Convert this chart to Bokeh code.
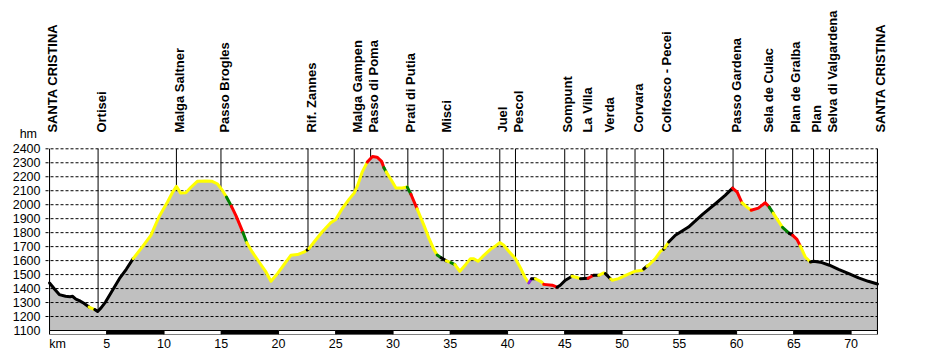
import numpy as np
from bokeh.plotting import figure
from bokeh.models import Range1d, FixedTicker
from bokeh.core.properties import value
from bokeh.embed import file_html
from bokeh.resources import INLINE

# ---------------- data ----------------
km = [0.0, 0.2, 0.45, 0.85, 1.4, 1.8, 2.0, 2.3, 2.6, 3.0,
      3.45, 3.95, 4.2, 4.5, 4.9, 5.5, 6.1, 6.7, 7.3, 8.1,
      8.85, 9.55, 10.3, 10.75, 11.08, 11.45, 11.9, 12.35, 12.9, 13.65,
      14.2, 14.65, 15.1, 15.45, 15.88, 16.3, 16.9, 17.22, 17.7, 18.3,
      18.9, 19.34, 19.9, 20.6, 21.07, 21.65, 22.25, 22.5, 22.65, 23.1,
      23.8, 24.55, 25.0, 25.55, 26.15, 26.6, 26.9, 27.3, 27.75, 28.2,
      28.6, 29.0, 29.2, 29.4, 29.95, 30.25, 30.8, 31.24, 31.56, 32.1,
      32.7, 33.15, 33.6, 33.85, 34.2, 34.65, 35.05, 35.4, 35.83, 36.33,
      36.76, 37.05, 37.43, 37.93, 38.5, 38.95, 39.32, 39.67, 40.1, 40.69,
      41.13, 41.5, 41.85, 42.09, 42.43, 42.96, 43.16, 43.9, 44.32, 44.6,
      45.05, 45.63, 46.06, 46.36, 47.03, 47.52, 47.96, 48.4, 48.54, 48.83,
      49.0, 49.15, 49.7, 50.3, 51.15, 51.75, 51.89, 52.18, 52.47, 52.9,
      53.35, 53.63, 53.72, 54.07, 54.65, 55.8, 57.0, 58.15, 59.0, 59.65,
      60.05, 60.47, 60.9, 61.27, 61.9, 62.5, 62.85, 63.2, 63.55, 64.01,
      64.6, 64.9, 65.27, 65.56, 66.0, 66.45, 66.72, 67.45, 68.11, 68.9,
      69.8, 70.65, 71.5, 72.3]

elev = [1440, 1420, 1395, 1357, 1345, 1342, 1345, 1325, 1314, 1295,
        1268, 1250, 1236, 1262, 1305, 1388, 1471, 1538, 1614, 1698,
        1781, 1912, 2019, 2090, 2131, 2083, 2085, 2125, 2167, 2169,
        2167, 2150, 2102, 2055, 1990, 1918, 1800, 1729, 1662, 1590,
        1519, 1452, 1507, 1586, 1638, 1643, 1662, 1676, 1686, 1733,
        1805, 1871, 1895, 1971, 2038, 2083, 2138, 2233, 2305, 2345,
        2340, 2310, 2265, 2235, 2162, 2119, 2119, 2126, 2075, 1970,
        1852, 1757, 1674, 1640, 1620, 1598, 1585, 1572, 1524, 1571,
        1614, 1614, 1595, 1638, 1681, 1705, 1729, 1710, 1667, 1614,
        1548, 1483, 1440, 1470, 1470, 1448, 1430, 1424, 1410, 1424,
        1460, 1488, 1479, 1471, 1474, 1495, 1495, 1512, 1507, 1483,
        1468, 1460, 1471, 1495, 1524, 1531, 1540, 1560, 1579, 1614,
        1667, 1681, 1690, 1733, 1781, 1840, 1929, 2007, 2067, 2119,
        2090, 2014, 1983, 1960, 1976, 2014, 1983, 1940, 1895, 1838,
        1795, 1781, 1752, 1705, 1626, 1590, 1595, 1586, 1567, 1538,
        1507, 1476, 1452, 1433]

# surface class of the stretch that starts at each point (last one unused)
surface = list(
    "KKKKKKKKKK"
    "YKKKKKKKYY"
    "YYYYYYYYYY"
    "YYYGRRGYYY"
    "YYYYYYYKYY"
    "YYYYYYYYRR"
    "RRGYYYYGRY"
    "YYYGKYGYYY"
    "YYYYYYYYYY"
    "YYPKYYRRKK"
    "KYYKRKYYKK"
    "YYYYYYKYYY"
    "YKYKKKKKKR"
    "RYYRRRGYYG"
    "KRRYYKKKKK"
    "KKKK"
)

colour_of = {"K": "#000000", "Y": "#ffff00", "R": "#ff0000",
             "G": "#008000", "P": "#8a2be2"}

place_names = ["SANTA CRISTINA", "Ortisei", "Malga  Saltner", "Passo Brogles",
               "Rif. Zannes", "Malga Gampen", "Passo di Poma", "Prati di Putia",
               "Misci", "Juel", "Pescol", "Sompunt", "La Villa", "Verda", "Corvara",
               "Colfosco - Pecei", "Passo Gardena", "Sela de Culac", "Plan de Gralba",
               "Plan", "Selva di Valgardena", "SANTA CRISTINA"]
place_km = [0.0, 4.24, 11.08, 14.97, 22.57, 26.61, 28.04, 31.29, 34.38, 39.32, 40.69,
            44.99, 46.74, 48.67, 51.13, 53.63, 59.69, 62.53, 64.89, 66.72, 68.11, 72.3]

km_ticks = [5, 10, 15, 20, 25, 30, 35, 40, 45, 50, 55, 60, 65, 70]
elev_ticks = [1100, 1200, 1300, 1400, 1500, 1600, 1700, 1800, 1900, 2000, 2100,
              2200, 2300, 2400]
bar_starts = [0, 5, 10, 15, 20, 25, 30, 35, 40, 45, 50, 55, 60, 65, 70]
bar_ends = [5, 10, 15, 20, 25, 30, 35, 40, 45, 50, 55, 60, 65, 70, 72.3]

# ---------------- figure ----------------
KM_END = km[-1]
Y_BASE = 1100
Y_BOT = 1071.4
Y_TOP = 3461
X_LO, X_HI = -0.44, 73.44       # a little room either side for the end labels
HM_POS, KM_POS = 2509, 0.7      # where the unit captions sit

p = figure(width=927, height=354, output_backend="svg", toolbar_location=None,
           x_range=Range1d(X_LO, X_HI), y_range=Range1d(Y_BOT, Y_TOP),
           min_border_left=44, min_border_right=37, min_border_top=0,
           min_border_bottom=20)
p.outline_line_color = None
p.xgrid.visible = False
p.ygrid.visible = False
p.background_fill_color = "white"
p.border_fill_color = "white"

FONT = value("Liberation Sans")

# location lines (lower part hidden by the fill)
p.segment(x0=place_km, y0=[Y_BASE] * len(place_km), x1=place_km,
          y1=[elev_ticks[-1]] * len(place_km), line_color="black", line_width=1)

# profile fill
p.varea(x=km, y1=[Y_BASE] * len(km), y2=elev, fill_color="#c0c0c0")

# dashed grid
grid_levels = elev_ticks[1:]
p.segment(x0=[-0.35] * len(grid_levels), y0=grid_levels,
          x1=[KM_END] * len(grid_levels), y1=grid_levels,
          line_color="black", line_width=1, line_dash="3 2")

# border lines at both ends
p.segment(x0=[0, KM_END], y0=[Y_BOT, Y_BOT], x1=[0, KM_END],
          y1=[elev_ticks[-1]] * 2, line_color="black", line_width=1)

# coloured profile line, grouped into runs of equal surface
xs, ys, cs = [], [], []
n = len(km)
i = 0
while i < n - 1:
    j = i
    while j + 1 < n - 1 and surface[j + 1] == surface[i]:
        j += 1
    xs.append(km[i:j + 2])
    ys.append(elev[i:j + 2])
    cs.append(colour_of[surface[i]])
    i = j + 1
p.multi_line(xs=xs, ys=ys, line_color=cs, line_width=3, line_join="round",
             line_cap="round")

# km scale bar
p.quad(left=bar_starts, right=bar_ends, bottom=[Y_BOT] * len(bar_starts),
       top=[Y_BASE] * len(bar_starts),
       fill_color=["white" if k % 2 == 0 else "black" for k in range(len(bar_starts))],
       line_color="black", line_width=1)

# place names
label_x = [k + 0.27 for k in place_km]
p.text(x=label_x, y=[2516] * len(place_km), text=place_names, angle=np.pi / 2,
       text_align="left", text_baseline="middle", text_font=FONT,
       text_font_style="bold", text_font_size="13px", text_color="black")

# axes
p.yaxis.ticker = FixedTicker(ticks=elev_ticks + [HM_POS])
p.yaxis.major_label_overrides = {HM_POS: "hm\u00a0"}
p.yaxis.axis_line_color = None
p.yaxis.major_tick_line_color = None
p.yaxis.minor_tick_line_color = None
p.yaxis.major_tick_out = 0
p.yaxis.major_label_standoff = 4
p.yaxis.major_label_text_font = "Liberation Sans"
p.yaxis.major_label_text_font_size = "12.5px"
p.yaxis.major_label_text_color = "black"

p.xaxis.ticker = FixedTicker(ticks=[KM_POS] + km_ticks)
p.xaxis.major_label_overrides = {KM_POS: "km"}
p.xaxis.axis_line_color = None
p.xaxis.major_tick_line_color = None
p.xaxis.minor_tick_line_color = None
p.xaxis.major_tick_out = 0
p.xaxis.major_label_standoff = 2
p.xaxis.major_label_text_font = "Liberation Sans"
p.xaxis.major_label_text_font_size = "12.5px"
p.xaxis.major_label_text_color = "black"

open("out.html", "w").write(file_html(p, INLINE))
